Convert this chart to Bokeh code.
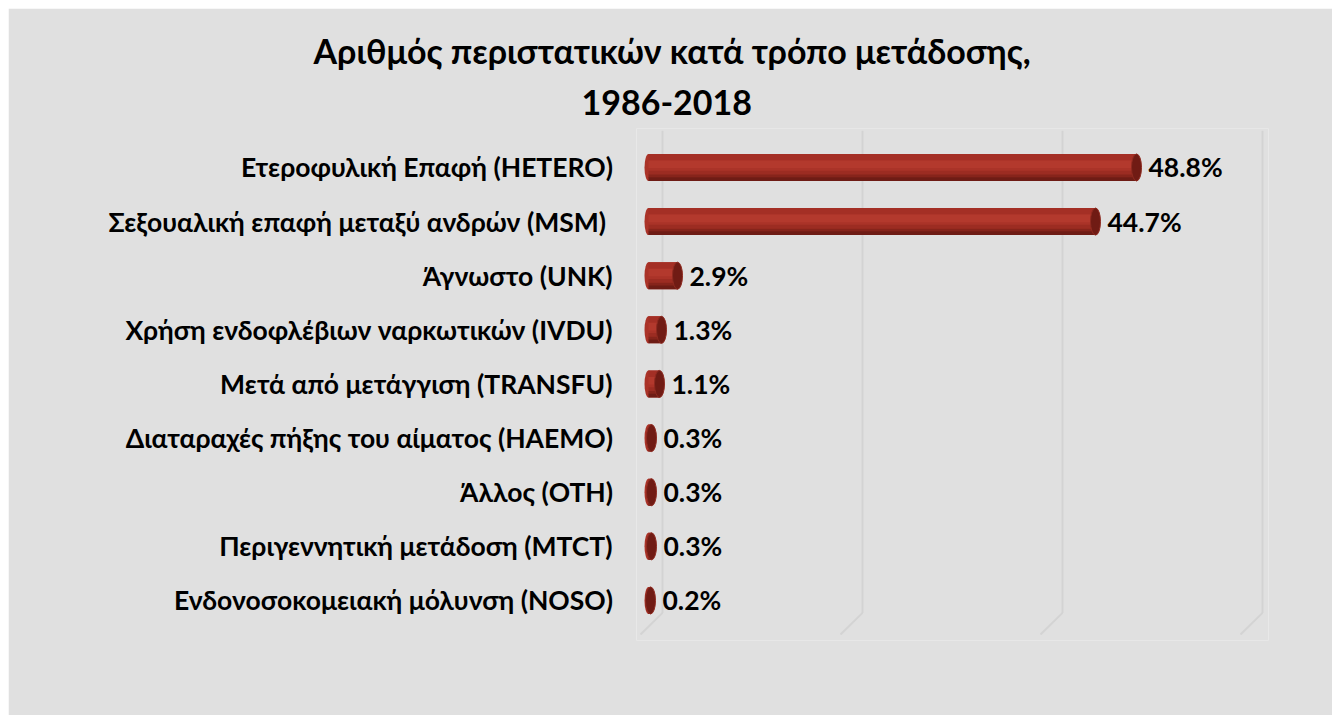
from bokeh.plotting import figure
from bokeh.models import Range1d, FixedTicker, Title, ColumnDataSource
from bokeh.core.properties import value
from bokeh.embed import file_html
from bokeh.resources import INLINE

categories = [
    "Ετεροφυλική Επαφή (HETERO)",
    "Σεξουαλική επαφή μεταξύ ανδρών  (MSM)",
    "Άγνωστο (UNK)",
    "Χρήση ενδοφλέβιων ναρκωτικών (IVDU)",
    "Μετά από μετάγγιση (TRANSFU)",
    "Διαταραχές πήξης του αίματος (HAEMO)",
    "Άλλος (OTH)",
    "Περιγεννητική μετάδοση (MTCT)",
    "Ενδονοσοκομειακή μόλυνση (NOSO)",
]
values = [48.8, 44.7, 2.9, 1.3, 1.1, 0.3, 0.3, 0.3, 0.2]
value_labels = ["48.8%", "44.7%", "2.9%", "1.3%", "1.1%", "0.3%", "0.3%", "0.3%", "0.2%"]
grid_ticks = [0, 20, 40, 60]
title_lines = ["Αριθμός περιστατικών κατά τρόπο μετάδοσης,", "1986-2018"]

FONT = "Lato"
BG = "#e0e0e0"

idx = list(range(len(categories)))
src = ColumnDataSource(dict(y=idx, v=values, lab=value_labels))

p = figure(width=1324, height=707, margin=(8, 0, 0, 8),
           output_backend="svg", toolbar_location=None,
           x_range=Range1d(-1.2, 62), y_range=Range1d(8.74, -0.72),
           min_border_left=628, min_border_right=64, min_border_top=120, min_border_bottom=75)
p.title.visible = False
p.background_fill_color = BG
p.border_fill_color = BG
p.outline_line_color = None
p.xgrid.visible = False
p.ygrid.visible = False
p.xaxis.visible = False

ax = p.yaxis[0]
ax.ticker = FixedTicker(ticks=idx)
ax.major_label_overrides = {i: c for i, c in enumerate(categories)}
ax.axis_line_color = None
ax.major_tick_line_color = None
ax.minor_tick_line_color = None
ax.major_label_text_font = FONT
ax.major_label_text_font_style = "bold"
ax.major_label_text_font_size = "26.5px"
ax.major_label_text_color = "#000000"
ax.major_label_standoff = 18

# 3D-ish gridlines (back wall vertical + floor diagonal)
depth = 1.4
gx = [t + depth for t in grid_ticks]
p.segment(x0=gx, y0=[-0.68] * 4, x1=gx, y1=[8.23] * 4, line_color="#d3d3d3", line_width=2)
p.segment(x0=gx, y0=[8.23] * 4, x1=[t - 0.8 for t in grid_ticks], y1=[8.63] * 4,
          line_color="#d3d3d3", line_width=2)

H = 0.50
# left rounded end
p.ellipse(x=0, y="y", width=0.8, height=H, source=src, fill_color="#aa3328", line_color=None)
# cylinder body with banded shading (offset from centre, band height, colour)
bands = [
    (0.0, H, "#aa3328"),
    (-0.19, 0.12, "#a42f25"),
    (-0.06, 0.14, "#b3392d"),
    (0.10, 0.08, "#9c2c22"),
    (0.16, 0.06, "#86241b"),
    (0.215, 0.07, "#6e1c15"),
]
for off, hh, col in bands:
    p.hbar(y=[i + off for i in idx], left=0, right=values, height=hh,
           fill_color=col, line_color=None)
# right cap
p.ellipse(x="v", y="y", width=1.0, height=H, source=src, fill_color="#701b14",
          line_color="#8e2a20", line_width=1)

p.text(x="v", y="y", text="lab", source=src, x_offset=12, text_baseline="middle",
       text_font=value(FONT), text_font_style="bold", text_font_size="26.5px", text_color="#000000")

t2 = Title(text=title_lines[1], align="left", offset=-55, standoff=27, text_font=FONT,
           text_font_style="bold", text_font_size="34px", text_color="#000000")
t1 = Title(text=title_lines[0], align="left", offset=-323, standoff=8, text_font=FONT,
           text_font_style="bold", text_font_size="34px", text_color="#000000")
p.add_layout(t2, "above")
p.add_layout(t1, "above")

open("out.html", "w").write(file_html(p, INLINE))
